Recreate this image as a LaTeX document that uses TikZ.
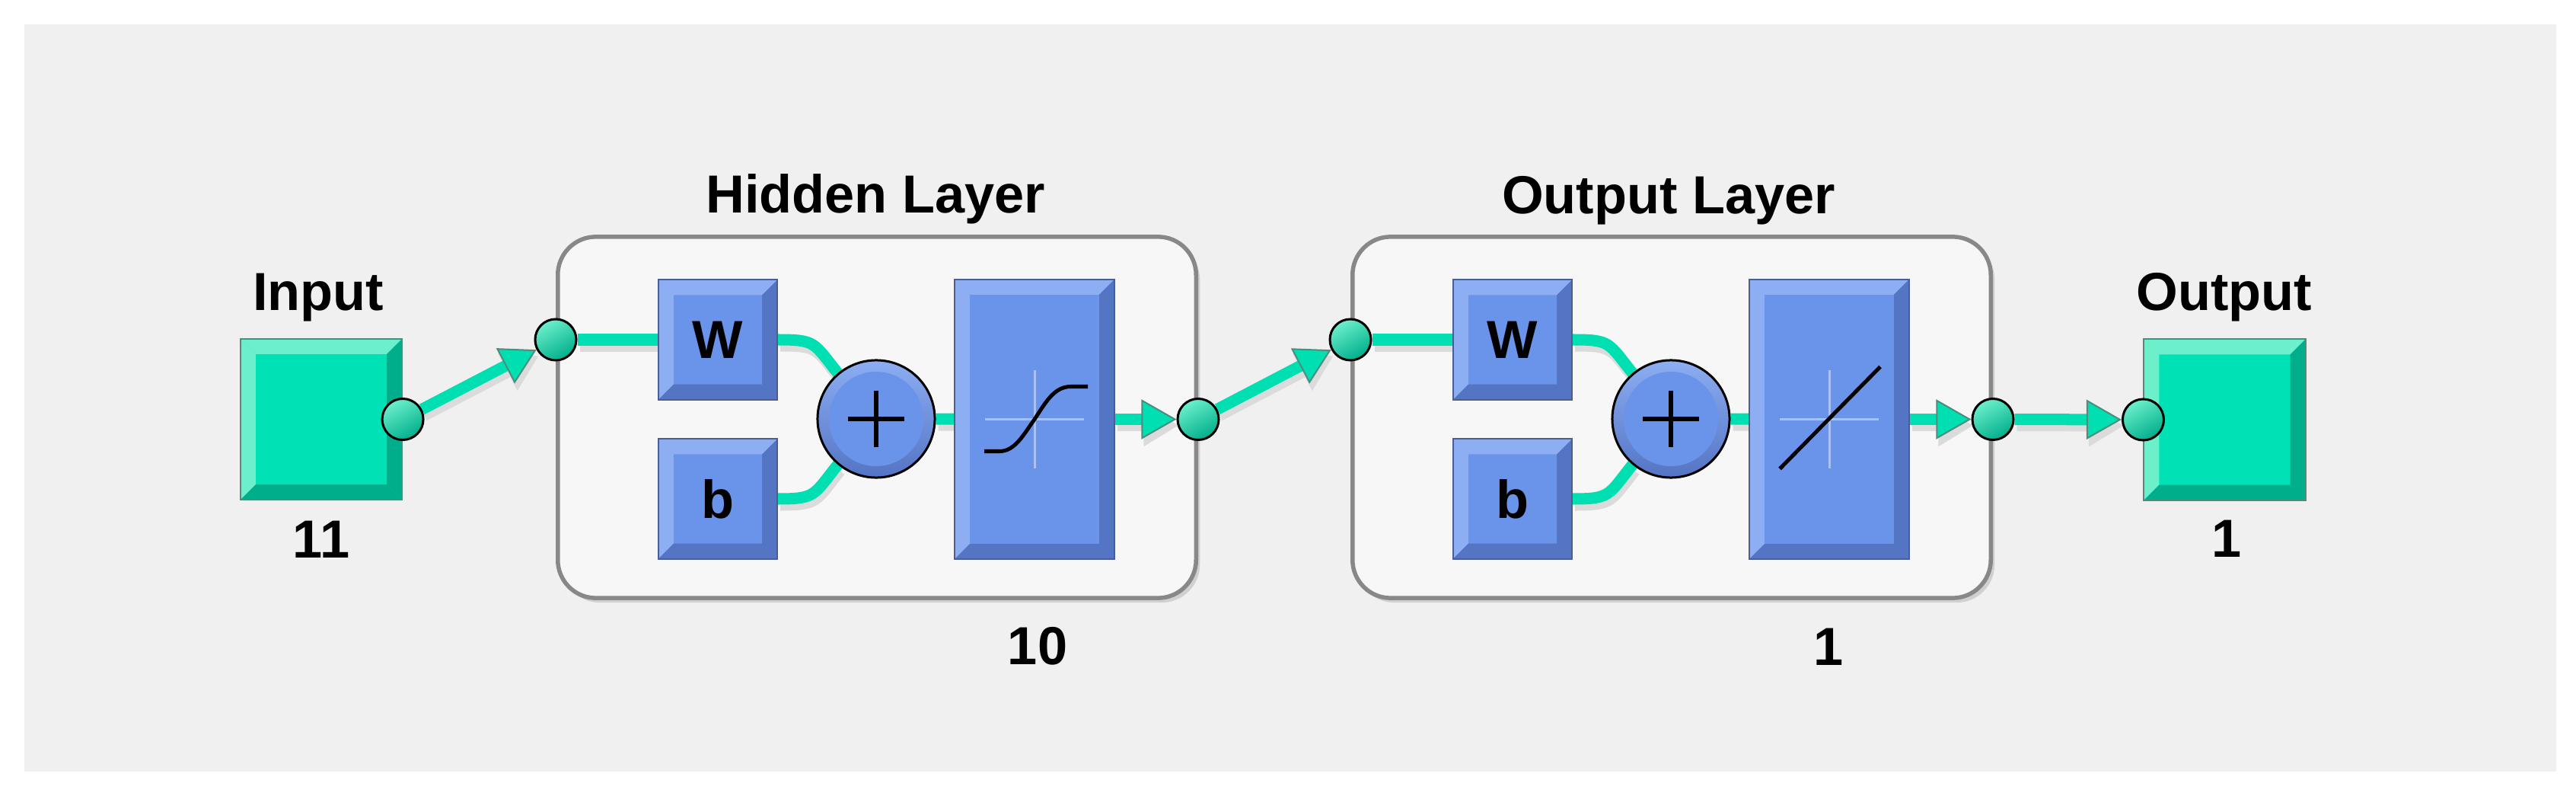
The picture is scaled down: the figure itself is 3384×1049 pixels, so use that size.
\documentclass[tikz,border=0pt]{standalone}
\usepackage{fontspec}
\setmainfont{Liberation Sans}
\usetikzlibrary{arrows.meta,calc,shadows}

\definecolor{panel}{HTML}{F0F0F0}
\definecolor{layerfill}{HTML}{F7F7F7}
\definecolor{layeredge}{HTML}{888888}
\definecolor{tealface}{HTML}{00E2B5}
\definecolor{teallight}{HTML}{6CEFCB}
\definecolor{tealdark}{HTML}{00AE8B}
\definecolor{tealedge}{HTML}{4E8C7E}
\definecolor{wireteal}{HTML}{00DFB2}
\definecolor{blueface}{HTML}{6A94EA}
\definecolor{bluelight}{HTML}{8DAEF2}
\definecolor{bluedark}{HTML}{5474C4}
\definecolor{blueedge}{HTML}{4B5E94}
\definecolor{crossc}{HTML}{A9C1F5}

\pgfdeclarelayer{back}
\pgfdeclarelayer{wires}
\pgfsetlayers{back,wires,main}

\newcommand\lblfont{\fontsize{20}{24}\selectfont\bfseries}

\tikzset{
  bevel/.style n args={2}{path picture={
    \coordinate (bvSW) at (path picture bounding box.south west);
    \coordinate (bvNE) at (path picture bounding box.north east);
    \coordinate (bvNW) at (path picture bounding box.north west);
    \coordinate (bvSE) at (path picture bounding box.south east);
    \fill[#1] (bvNW) -- (bvNE) -- ([shift={(-0.2cm,-0.2cm)}]bvNE) -- ([shift={(0.2cm,-0.2cm)}]bvNW) -- cycle;
    \fill[#1] (bvNW) -- ([shift={(0.2cm,-0.2cm)}]bvNW) -- ([shift={(0.2cm,0.2cm)}]bvSW) -- (bvSW) -- cycle;
    \fill[#2] (bvSW) -- (bvSE) -- ([shift={(-0.2cm,0.2cm)}]bvSE) -- ([shift={(0.2cm,0.2cm)}]bvSW) -- cycle;
    \fill[#2] (bvNE) -- (bvSE) -- ([shift={(-0.2cm,0.2cm)}]bvSE) -- ([shift={(-0.2cm,-0.2cm)}]bvNE) -- cycle;
  }},
  tealbox/.style={draw=tealedge, line width=0.02cm, fill=tealface, bevel={teallight}{tealdark},
    minimum width=2.12cm, minimum height=2.11cm, inner sep=0pt},
  bluebox/.style={draw=blueedge, line width=0.02cm, fill=blueface, bevel={bluelight}{bluedark},
    inner sep=0pt, font=\lblfont},
  wbox/.style={bluebox, minimum width=1.56cm, minimum height=1.57cm},
  fbox/.style={bluebox, minimum width=2.10cm, minimum height=3.67cm},
  layer/.style={draw=layeredge, line width=0.055cm, fill=layerfill, rounded corners=0.5cm,
    minimum width=8.38cm, minimum height=4.74cm,
    drop shadow={shadow xshift=0.05cm, shadow yshift=-0.06cm, fill=black!30, opacity=0.5}},
  sumnode/.style={circle, draw=black, line width=0.03cm, minimum size=1.54cm, inner sep=0pt,
    top color=bluelight, bottom color=bluedark,
    path picture={
      \fill[blueface] (path picture bounding box.center) circle (0.62cm);
      \draw[black, line width=0.06cm] ([xshift=-0.37cm]path picture bounding box.center) -- ([xshift=0.37cm]path picture bounding box.center);
      \draw[black, line width=0.06cm] ([yshift=-0.37cm]path picture bounding box.center) -- ([yshift=0.37cm]path picture bounding box.center);
    }},
  port/.style={circle, draw=black, line width=0.03cm, minimum size=0.54cm, inner sep=0pt,
    top color=teallight, bottom color=tealdark, shading angle=30},
  lbl/.style={font=\lblfont, text=black, inner sep=0pt, anchor=base},
  wire/.style={line width=0.15cm, draw=wireteal},
  wshadow/.style={line width=0.15cm, draw=black!14, transform canvas={shift={(0.03cm,-0.08cm)}}},
  tip/.style={-{Triangle[length=0.46cm,width=0.52cm,line width=0.02cm,fill=wireteal,color=tealedge]}},
  shtip/.style={-{Triangle[length=0.46cm,width=0.52cm]}},
  crossline/.style={draw=crossc, line width=0.03cm},
  curveline/.style={draw=black, line width=0.05cm},
}

\newcommand\wire[1]{\draw[wshadow] #1; \draw[wire] #1;}
\newcommand\awire[1]{\draw[wshadow,shtip] #1; \draw[wire,tip] #1;}

\begin{document}
\begin{tikzpicture}[x=0.01cm, y=-0.01cm]
\path[use as bounding box] (0,0) rectangle (3384,1049);

\begin{pgfonlayer}{back}
  \fill[white] (0,0) rectangle (3384,1049);
  \fill[panel] (32,32) rectangle (3358,1013);
  \node[layer] (HL) at (1152,548) {};
  \node[layer] (OL) at (2196,548) {};
\end{pgfonlayer}

% input / output boxes
\node[tealbox] (IN) at (422,550.5) {};
\node[tealbox] (OUT) at (2922.5,551) {};

% hidden layer blocks
\node[wbox] (W1) at (943,446) {W};
\node[wbox] (B1) at (943,655) {b};
\node[sumnode] (S1) at (1151,550) {};
\node[fbox] (F1) at (1359,550.5) {};

% output layer blocks
\node[wbox] (W2) at (1987,446) {W};
\node[wbox] (B2) at (1987,655) {b};
\node[sumnode] (S2) at (2195,550) {};
\node[fbox] (F2) at (2403,550.5) {};

% transfer function glyphs
\draw[crossline] ([xshift=-0.65cm]F1.center) -- ([xshift=0.65cm]F1.center);
\draw[crossline] ([yshift=-0.64cm]F1.center) -- ([yshift=0.64cm]F1.center);
\begin{scope}[shift={(F1.center)}]
  \draw[curveline] (-66,42) -- (-46,42) .. controls (-26,42) and (-15,21) .. (0,0)
     .. controls (15,-23) and (26,-43) .. (48,-43) -- (70,-43);
\end{scope}
\draw[crossline] ([xshift=-0.65cm]F2.center) -- ([xshift=0.65cm]F2.center);
\draw[crossline] ([yshift=-0.64cm]F2.center) -- ([yshift=0.64cm]F2.center);
\begin{scope}[shift={(F2.center)}]
  \draw[curveline] (-65,65) -- (67,-69);
\end{scope}

% ports
\node[port] (P1) at (IN.east) {};
\node[port] (P2) at (HL.west |- W1.center) {};
\node[port] (P3) at (HL.east |- F1.center) {};
\node[port] (P4) at (OL.west |- W2.center) {};
\node[port] (P5) at (OL.east |- F2.center) {};
\node[port] (P6) at (OUT.west) {};

% wires
\begin{pgfonlayer}{wires}
  \awire{(P1) -- (P2)}
  \wire{(P2) -- (W1)}
  \wire{(W1.east) .. controls +(50,0) and +(-32,-40) .. (S1.130)}
  \wire{(B1.east) .. controls +(50,0) and +(-32,40) .. (S1.230)}
  \wire{(S1) -- (F1)}
  \awire{(F1) -- (P3)}
  \awire{(P3) -- (P4)}
  \wire{(P4) -- (W2)}
  \wire{(W2.east) .. controls +(50,0) and +(-32,-40) .. (S2.130)}
  \wire{(B2.east) .. controls +(50,0) and +(-32,40) .. (S2.230)}
  \wire{(S2) -- (F2)}
  \awire{(F2) -- (P5)}
  \awire{(P5) -- (P6)}
\end{pgfonlayer}

% labels
\node[lbl] (tIn) at (418,408) {Input};
\node[lbl] (tInN) at (422,732) {11};
\node[lbl] (tHL) at (1150,280) {Hidden Layer};
\node[lbl] (tHLN) at (1363,872) {10};
\node[lbl] (tOL) at (2192,281) {Output Layer};
\node[lbl] (tOLN) at (2402,873) {1};
\node[lbl] (tOut) at (2922,408) {Output};
\node[lbl] (tOutN) at (2925,731) {1};
\end{tikzpicture}
\end{document}
